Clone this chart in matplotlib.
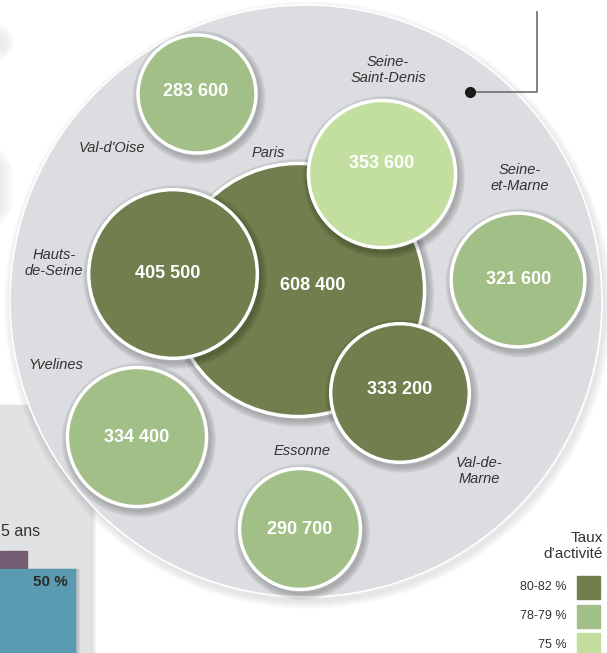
import matplotlib
matplotlib.use("Agg")
import matplotlib.pyplot as plt
from matplotlib.patches import Circle, Rectangle

# Data: active population by departement, with activity-rate class
departements = ["Paris", "Hauts-de-Seine", "Seine-Saint-Denis", "Val-de-Marne",
                "Val-d'Oise", "Seine-et-Marne", "Yvelines", "Essonne"]
actifs = [608400, 405500, 353600, 333200, 283600, 321600, 334400, 290700]
taux_classe = [0, 0, 2, 0, 1, 1, 1, 1]
legende_labels = ["80-82 %", "78-79 %", "75 %"]
legende_couleurs = ["#717f4e", "#a1bf86", "#c2dfa0"]

# Layout (pixels)
centres = [(298, 290), (173, 274), (382, 174), (400, 393),
           (197, 94), (518, 280), (137, 437), (300, 529)]
texte_xy = [(313, 285), (168, 273), (382, 163), (400, 389),
            (196, 92), (519, 280), (137, 437), (300, 529)]
nom_xy = [(268, 153), (54, 263), (388, 70), (479, 471),
          (112, 148), (520, 178), (56, 365), (302, 451)]
noms_affiches = ["Paris", "Hauts-\nde-Seine", "Seine-\nSaint-Denis", "Val-de-\nMarne",
                 "Val-d'Oise", "Seine-\net-Marne", "Yvelines", "Essonne"]
echelle = 2.08e-4  # radius in px per actif

narrow = ["Liberation Sans Narrow", "Liberation Sans", "DejaVu Sans"]

fig = plt.figure(figsize=(6.07, 6.53), dpi=100)
ax = fig.add_axes([0, 0, 1, 1])
ax.set_xlim(0, 607)
ax.set_ylim(653, 0)
ax.axis("off")

# left partial panel
for i in range(6):
    ax.add_patch(Rectangle((0, 405), 90 + i, 248, color="black", alpha=0.025, zorder=1))
ax.add_patch(Rectangle((0, 405), 90, 248, color="#e1e2e4", zorder=1))
ax.text(1, 531, "5 ans", ha="left", va="center", fontsize=11.5,
        family=narrow, color="#333333", zorder=2)
ax.add_patch(Rectangle((0, 551), 27, 17, color="#735b71", zorder=2))
for i in range(5):
    ax.add_patch(Rectangle((0, 569), 75 + i, 84, color="black", alpha=0.04, zorder=2))
ax.add_patch(Rectangle((0, 569), 75, 84, color="#5b9bb1", zorder=2))
ax.text(68, 582, "50 %", ha="right", va="center", fontsize=11, fontweight="bold",
        family=narrow, color="#2b2b2b", zorder=3)

# faint blurred marks top-left
for i in range(6):
    ax.add_patch(Rectangle((0, 25 + 2 * i), 4 + 2 * i, 35 - 4 * i, color="#999999",
                           alpha=0.03, lw=0, zorder=1))
    ax.add_patch(Rectangle((0, 150 + 3 * i), 3 + 2 * i, 75 - 6 * i, color="#999999",
                           alpha=0.03, lw=0, zorder=1))

# big background circle with soft shadow
for i in range(8):
    ax.add_patch(Circle((308, 305), 296 + i, color="black", alpha=0.012, zorder=3))
ax.add_patch(Circle((306, 301), 296, facecolor="#dcdde0", edgecolor="white",
                    linewidth=1.2, zorder=4))

# leader line
ax.plot([470, 537, 537], [92, 92, 12], color="#777777", lw=1.3, zorder=5)
ax.plot(470, 92, "o", color="#1a1a1a", markersize=7, zorder=6)

# bubbles
for k, (nom, v, c) in enumerate(zip(departements, actifs, taux_classe)):
    cx, cy = centres[k]
    r = v * echelle
    z = 10 + 3 * k
    for i in range(7):
        ax.add_patch(Circle((cx + 2, cy + 3), r + 1 + i, color="black",
                            alpha=0.03, zorder=z))
    ax.add_patch(Circle((cx, cy), r, facecolor=legende_couleurs[c],
                        edgecolor="white", linewidth=2.5, zorder=z + 1))
    tx, ty = texte_xy[k]
    ax.text(tx, ty, f"{v:,}".replace(",", " "), ha="center", va="center",
            fontsize=13, fontweight="bold", color="white", family=narrow,
            zorder=z + 2)

# departement names
for (x, y), s in zip(nom_xy, noms_affiches):
    ax.text(x, y, s, ha="center", va="center", fontsize=10.5, style="italic",
            family=narrow, color="#333333", linespacing=1.1, zorder=50)

# legend
ax.text(603, 546, "Taux\nd\u2019activit\u00e9", ha="right", va="center",
        fontsize=11, family=narrow, color="#333333", linespacing=1.15, zorder=50)
for i, (lab, col) in enumerate(zip(legende_labels, legende_couleurs)):
    y0 = 576 + i * 28.5
    ax.add_patch(Rectangle((577, y0), 23, 23, color=col, zorder=50))
    ax.text(567, y0 + 11.5, lab, ha="right", va="center", fontsize=9,
            family=narrow, color="#333333", zorder=50)

fig.savefig("out.png", dpi=100)
